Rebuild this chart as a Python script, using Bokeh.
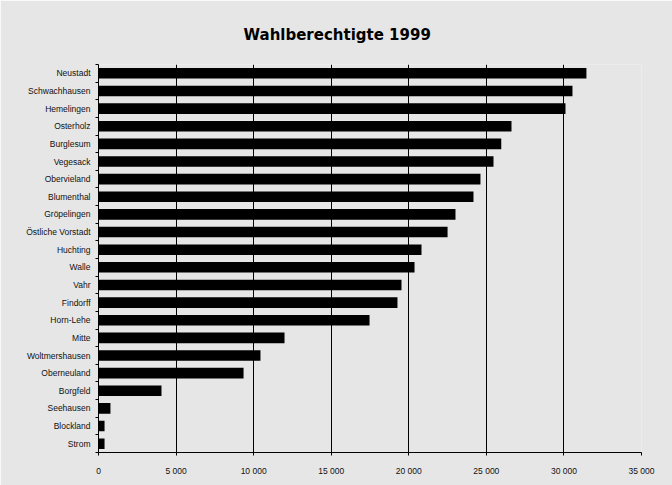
from bokeh.plotting import figure
from bokeh.models import ColumnDataSource, Range1d, LinearAxis, FixedTicker
from bokeh.embed import file_html
from bokeh.resources import INLINE

title_text = "Wahlberechtigte 1999"
districts = ["Neustadt", "Schwachhausen", "Hemelingen", "Osterholz", "Burglesum",
             "Vegesack", "Obervieland", "Blumenthal", "Gröpelingen",
             "Östliche Vorstadt", "Huchting", "Walle", "Vahr", "Findorff",
             "Horn-Lehe", "Mitte", "Woltmershausen", "Oberneuland", "Borgfeld",
             "Seehausen", "Blockland", "Strom"]
voters = [31450, 30550, 30100, 26620, 25960, 25460, 24620, 24170, 23010, 22500,
          20820, 20370, 19530, 19270, 17470, 11990, 10440, 9350, 4060, 770, 390, 390]
x_ticks = [0, 5000, 10000, 15000, 20000, 25000, 30000, 35000]
x_tick_labels = ["0", "5 000", "10 000", "15 000", "20 000", "25 000", "30 000", "35 000"]

BG = "#e6e6e6"
FONT = "Liberation Sans"

n = len(districts)
# category slot centres, first district at the top
ypos = [n - i - 0.5 for i in range(n)]
source = ColumnDataSource(dict(district=districts, voters=voters, y=ypos))

p = figure(width=672, height=485, output_backend="svg", toolbar_location=None,
           y_range=Range1d(0, n),
           x_range=Range1d(x_ticks[0], x_ticks[-1]),
           y_axis_location=None, x_axis_location="below",
           min_border_left=98, min_border_right=31, min_border_top=64,
           min_border_bottom=33)

p.background_fill_color = BG
p.border_fill_color = BG
p.outline_line_color = None

p.hbar(y="y", right="voters", left=0, height=0.6, source=source,
       fill_color="black", line_color=None)

# title
p.title.text = title_text
p.title.align = "left"
p.title.offset = 145
p.title.standoff = 42
p.title.text_font = "DejaVu Sans"
p.title.text_font_size = "15px"
p.title.text_font_style = "bold"
p.title.text_color = "black"

# x axis
xa = p.xaxis[0]
xa.ticker = FixedTicker(ticks=x_ticks)
xa.major_label_overrides = {t: l for t, l in zip(x_ticks, x_tick_labels)}
xa.major_label_text_font = FONT
xa.major_label_text_font_size = "8.5px"
xa.major_label_text_color = "#111111"
xa.major_tick_in = 0
xa.major_tick_out = 3
xa.minor_tick_line_color = None
xa.axis_line_color = "black"
xa.major_tick_line_color = "black"
xa.major_label_standoff = 10

p.xgrid.ticker = FixedTicker(ticks=x_ticks)
p.xgrid.grid_line_color = "black"
p.xgrid.grid_line_width = 1
p.ygrid.grid_line_color = None

# y boundary ticks axis (between categories)
bounds = list(range(n + 1))
tick_axis = LinearAxis(ticker=FixedTicker(ticks=bounds),
                       major_label_overrides={b: "" for b in bounds},
                       major_label_standoff=0, major_tick_in=0, major_tick_out=3,
                       minor_tick_line_color=None, axis_line_color="black",
                       major_tick_line_color="black", major_label_text_font_size="1px")
p.add_layout(tick_axis, "left")

label_axis = LinearAxis(ticker=FixedTicker(ticks=ypos),
                        major_label_overrides={y: d for y, d in zip(ypos, districts)},
                        axis_line_color=None, major_tick_line_color=None,
                        minor_tick_line_color=None,
                        major_tick_in=0, major_tick_out=0,
                        major_label_standoff=5,
                        major_label_text_font=FONT,
                        major_label_text_font_size="8.5px",
                        major_label_text_color="#111111")
p.add_layout(label_axis, "left")

open("out.html", "w").write(file_html(p, INLINE))
